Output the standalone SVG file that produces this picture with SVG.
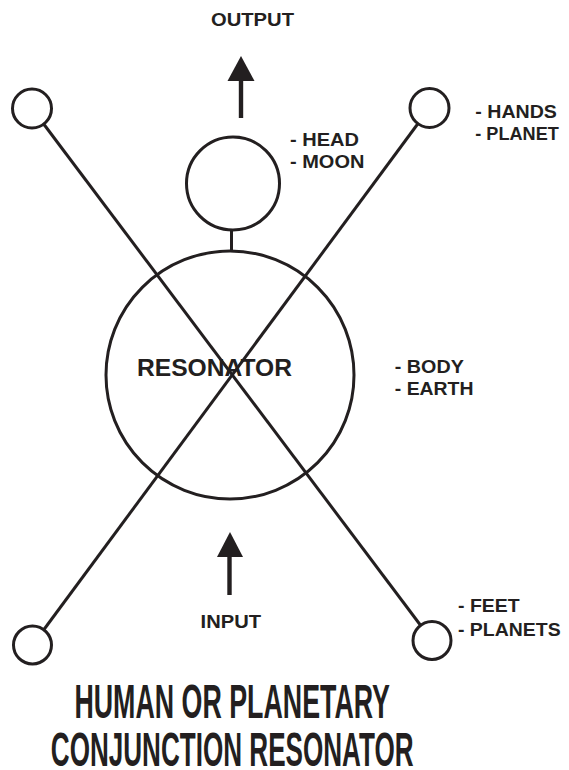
<svg xmlns="http://www.w3.org/2000/svg" width="569" height="770" viewBox="0 0 569 770">
<style>
.s{fill:none;stroke:#231f20;stroke-width:3}
.n{fill:#fff;stroke:#231f20;stroke-width:3}
.t{font-family:"Liberation Sans",Arial,sans-serif;font-weight:bold;fill:#231f20;font-size:18.5px}
.big{font-size:24px}
.ttl{font-family:"Liberation Sans Narrow","Liberation Sans",Arial,sans-serif;font-weight:bold;fill:#231f20;font-size:49px}
.ah{fill:#231f20}
</style>
<g id="connectors">
<line class="s" x1="32" y1="108.5" x2="432" y2="640.5"/>
<line class="s" x1="429.5" y1="108" x2="32.5" y2="645"/>
<line class="s" x1="231.5" y1="228" x2="231.5" y2="251"/>
</g>
<g id="resonator">
<circle class="s" cx="230" cy="375" r="124"/>
<text class="t big" x="137" y="376" textLength="155" lengthAdjust="spacingAndGlyphs">RESONATOR</text>
</g>
<g id="head">
<circle class="n" cx="233" cy="183.5" r="46.5"/>
</g>
<g id="hand-left"><circle class="n" cx="32" cy="108.5" r="19.5"/></g>
<g id="hand-right"><circle class="n" cx="429.5" cy="108" r="19.5"/></g>
<g id="foot-left"><circle class="n" cx="32.5" cy="645" r="19"/></g>
<g id="foot-right"><circle class="n" cx="432" cy="640.5" r="19"/></g>
<g id="output">
<line x1="241" y1="80" x2="241" y2="118" stroke="#231f20" stroke-width="4.4"/>
<polygon class="ah" points="241,56 254.5,81 227.5,81"/>
<text class="t" x="211" y="26" textLength="83" lengthAdjust="spacingAndGlyphs">OUTPUT</text>
</g>
<g id="input">
<line x1="229.5" y1="556" x2="229.5" y2="595" stroke="#231f20" stroke-width="4.4"/>
<polygon class="ah" points="230,532 243,557 217,557"/>
<text class="t" x="200.6" y="627.7" textLength="60.4" lengthAdjust="spacingAndGlyphs">INPUT</text>
</g>
<g id="labels">
<text class="t" x="290" y="146" textLength="69" lengthAdjust="spacingAndGlyphs">- HEAD</text>
<text class="t" x="290" y="168.3" textLength="74.4" lengthAdjust="spacingAndGlyphs">- MOON</text>
<text class="t" x="475.3" y="118.3" textLength="81.6" lengthAdjust="spacingAndGlyphs">- HANDS</text>
<text class="t" x="475.3" y="140" textLength="83.5" lengthAdjust="spacingAndGlyphs">- PLANET</text>
<text class="t" x="394.8" y="372.7" textLength="69" lengthAdjust="spacingAndGlyphs">- BODY</text>
<text class="t" x="394.8" y="395" textLength="78.7" lengthAdjust="spacingAndGlyphs">- EARTH</text>
<text class="t" x="458" y="611.7" textLength="61.6" lengthAdjust="spacingAndGlyphs">- FEET</text>
<text class="t" x="458" y="636" textLength="102.6" lengthAdjust="spacingAndGlyphs">- PLANETS</text>
</g>
<g id="title">
<text class="ttl" x="74.4" y="717.5" textLength="315.6" lengthAdjust="spacingAndGlyphs">HUMAN OR PLANETARY</text>
<text class="ttl" x="50.8" y="766" textLength="362.8" lengthAdjust="spacingAndGlyphs">CONJUNCTION RESONATOR</text>
</g>
</svg>
